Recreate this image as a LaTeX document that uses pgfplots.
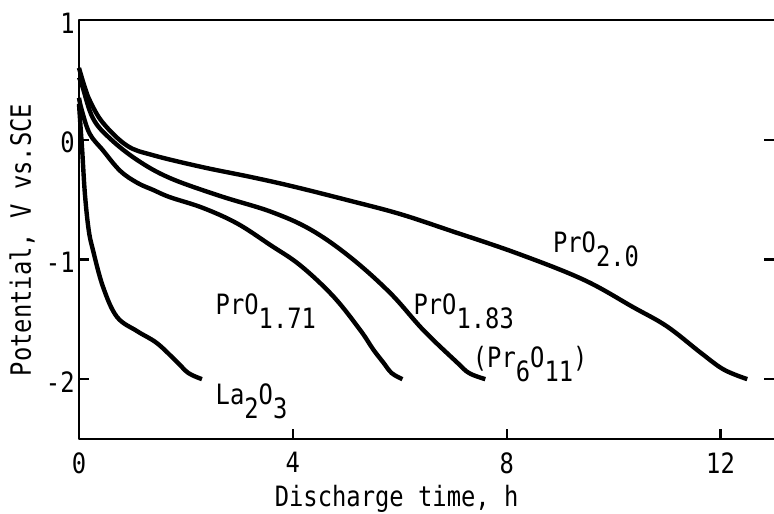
\documentclass[border=0pt]{standalone}
\usepackage{fontspec}
\setmainfont{DejaVu Sans Mono}[FakeStretch=0.85]
\usepackage{pgfplots}
\pgfplotsset{compat=1.18}
% lowered subscripts at full size, as in the original figure
\newcommand{\sub}[1]{\raisebox{-7pt}{#1}}

\begin{document}
\fontsize{14}{16}\selectfont
\begin{tikzpicture}
\begin{axis}[
    scale only axis,
    width=347.5pt, height=209.5pt,
    xmin=0, xmax=13, ymin=-2.5, ymax=1,
    xtick={0,4,8,12}, xticklabels={0,4,8,12},
    ytick={-2,-1,0,1}, yticklabels={-2,-1,0,1},
    xtick pos=left, ytick pos=both,
    tick align=inside, major tick length=5pt,
    tick style={line width=1.1pt, black},
    axis line style={draw=none},
    xticklabel style={anchor=north, inner sep=0pt, yshift=-6.5pt},
    yticklabel style={anchor=east, inner sep=0pt, xshift=-2pt, yshift=-1.5pt},
    xlabel={Discharge time, h},
    ylabel={Potential, V vs.SCE},
    every axis x label/.style={at={(axis description cs:0.457,0)}, anchor=base, yshift=-33.5pt},
    every axis y label/.style={at={(axis description cs:-0.082,0.475)}, anchor=center, rotate=90},
    clip=false,
]
% frame: left, top and bottom only
\draw[line width=1.1pt, line join=round] (rel axis cs:1,1) -- (rel axis cs:0,1) -- (rel axis cs:0,0) -- (rel axis cs:1,0);

% PrO2.0
\addplot[black, line width=2.2pt, smooth, tension=0.6] coordinates {
    (0,0.60) (0.1,0.45) (0.21,0.32) (0.45,0.14) (0.9,-0.05) (1.39,-0.13)
    (2.32,-0.23) (3.2,-0.31) (4.0,-0.39) (5.07,-0.51) (6.0,-0.62) (6.95,-0.76)
    (8.2,-0.95) (9.44,-1.17) (10.37,-1.40) (11.0,-1.56) (11.63,-1.78)
    (12.06,-1.92) (12.5,-2.0)
};
% PrO1.83
\addplot[black, line width=2.2pt, smooth, tension=0.6] coordinates {
    (0,0.52) (0.06,0.45) (0.26,0.18) (0.58,0.01) (1.09,-0.17) (1.70,-0.32)
    (2.64,-0.47) (3.58,-0.60) (4.33,-0.75) (5.07,-0.98) (5.82,-1.28)
    (6.44,-1.59) (7.07,-1.86) (7.3,-1.95) (7.6,-2.0)
};
% PrO1.71
\addplot[black, line width=2.2pt, smooth, tension=0.6] coordinates {
    (0,0.35) (0.05,0.25) (0.2,0.05) (0.45,-0.09) (0.77,-0.26) (1.09,-0.36)
    (1.39,-0.42) (1.70,-0.48) (2.32,-0.57) (2.96,-0.70) (3.58,-0.88)
    (4.14,-1.05) (4.76,-1.31) (5.26,-1.59) (5.5,-1.75) (5.69,-1.86)
    (5.85,-1.95) (6.05,-2.0)
};
% La2O3
\addplot[black, line width=2.2pt, smooth, tension=0.6] coordinates {
    (0,0.3) (0.03,0.1) (0.06,-0.09) (0.11,-0.45) (0.18,-0.75) (0.26,-0.92)
    (0.45,-1.23) (0.71,-1.48) (1.09,-1.60) (1.46,-1.70) (1.84,-1.86)
    (2.05,-1.95) (2.3,-2.0)
};

\node[anchor=base west, inner sep=0pt] at (axis cs:8.86,-0.94) {PrO\sub{2.0}};
\node[anchor=base west, inner sep=0pt] at (axis cs:2.55,-1.46) {PrO\sub{1.71}};
\node[anchor=base west, inner sep=0pt] at (axis cs:6.25,-1.46) {PrO\sub{1.83}};
\node[anchor=base west, inner sep=0pt] at (axis cs:7.36,-1.90) {(Pr\sub{6}O\sub{11})};
\node[anchor=base west, inner sep=0pt] at (axis cs:2.55,-2.21) {La\sub{2}O\sub{3}};
\end{axis}
\pgfresetboundingbox
\path (-39.5pt,-37pt) rectangle (347.5pt,219.5pt);
\end{tikzpicture}
\end{document}
